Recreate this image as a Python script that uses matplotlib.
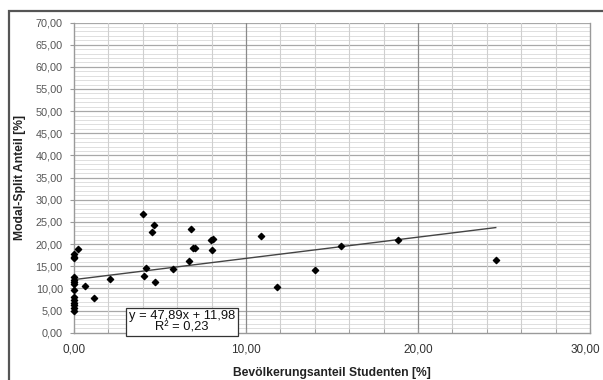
import matplotlib
matplotlib.use("Agg")
import matplotlib.pyplot as plt
from matplotlib.patches import Rectangle
from matplotlib.transforms import ScaledTranslation
import numpy as np

# Student share of population [%] and modal split share [%]
students = [0.0, 0.0, 0.0, 0.0, 0.0, 0.0, 0.0, 0.0, 0.0, 0.0, 0.0, 0.0, 0.0, 0.0,
            0.25, 0.62, 1.18, 2.11, 3.99, 4.05, 4.20, 4.52, 4.63, 4.73, 5.74,
            6.71, 6.78, 6.90, 7.02, 7.95, 8.02, 8.08, 10.87, 11.82, 14.03,
            15.54, 18.82, 24.52]
modal_split = [17.7, 17.1, 16.8, 12.5, 12.0, 11.5, 11.0, 9.6, 8.0, 7.4, 6.8, 6.2, 5.6, 4.9,
               18.9, 10.5, 7.9, 12.1, 26.8, 12.8, 14.7, 22.7, 24.2, 11.4, 14.4,
               16.1, 23.3, 19.2, 19.2, 20.9, 18.7, 21.2, 21.8, 10.2, 14.2,
               19.6, 20.9, 16.5]

# Linear trend (slope per unit share, intercept in %) and fit quality
trend_slope = 47.89
trend_intercept = 11.98
r_squared = 0.23

x_ticks = [0, 10, 20, 30]
y_ticks = list(range(0, 75, 5))

def de(v):
    return f"{v:.2f}".replace(".", ",")

plt.rcParams['font.family'] = ['Liberation Sans', 'DejaVu Sans']

fig = plt.figure(figsize=(6.03, 3.80), dpi=100)
fig.patch.set_facecolor("white")

# outer chart frame
fig.patches.append(Rectangle((9 / 603, -0.05), 1.1, 1 - 11 / 380 + 0.05,
                             transform=fig.transFigure, fill=False,
                             edgecolor="#555555", linewidth=1.6))

ax = fig.add_axes([74 / 603, 1 - 332.7 / 380, (590 - 74) / 603, (332.7 - 22.5) / 380])
ax.set_xlim(0, 30)
ax.set_ylim(0, 70)

# grid
for yv in np.arange(1, 70, 1):
    if yv % 5:
        ax.axhline(yv, color="#dedede", lw=0.7, zorder=0)
for yv in range(5, 71, 5):
    ax.axhline(yv, color="#a8a8a8", lw=0.9, zorder=0.5)
for xv in range(2, 30, 2):
    if xv % 10:
        ax.axvline(xv, color="#cfcfcf", lw=0.8, zorder=0.6)
for xv in (10, 20):
    ax.axvline(xv, color="#8a8a8a", lw=0.9, zorder=0.7)

ax.spines["top"].set_visible(False)
for s in ("left", "bottom", "right"):
    ax.spines[s].set_color("#9a9a9a")
    ax.spines[s].set_linewidth(1.0)

ax.set_xticks(x_ticks)
ax.set_xticklabels([de(v) for v in x_ticks], fontsize=8.5, color="#333333")
ax.set_xticks(range(0, 31, 2), minor=True)
ax.set_yticks(y_ticks)
ax.set_yticklabels([de(v) for v in y_ticks], fontsize=7.8, color="#555555")
ax.tick_params(axis="y", length=3, pad=5, color="#9a9a9a")
ax.tick_params(axis="x", which="both", length=3, pad=8, color="#9a9a9a", direction="in")

# keep the last x label inside the frame
last = ax.get_xticklabels()[-1]
last.set_transform(last.get_transform() + ScaledTranslation(-5 / 100, 0, fig.dpi_scale_trans))

ax.scatter(students, modal_split, marker="D", s=10, color="black", zorder=5, clip_on=False)

# trend line over the data range
xs = np.array([0, max(students)])
ax.plot(xs, trend_slope * xs / 100 + trend_intercept, color="#444444", lw=1.0, zorder=4)

ax.text(6.28, 2.4, f"y = {de(trend_slope)}x + {de(trend_intercept)}\nR² = {de(r_squared)}",
        ha="center", va="center", fontsize=9.3, color="#111111", linespacing=0.95,
        zorder=6, clip_on=False,
        bbox=dict(boxstyle="square,pad=0.2", facecolor="white", edgecolor="#333333", lw=0.9))

ax.set_xlabel("Bevölkerungsanteil Studenten [%]", fontsize=8.7, fontweight="bold",
              color="#222222", labelpad=8)
ax.set_ylabel("Modal-Split Anteil [%]", fontsize=8.7, fontweight="bold", color="#222222")
ax.yaxis.set_label_coords((26 - 74) / 516, 0.5)

fig.savefig("out.png", dpi=100)
